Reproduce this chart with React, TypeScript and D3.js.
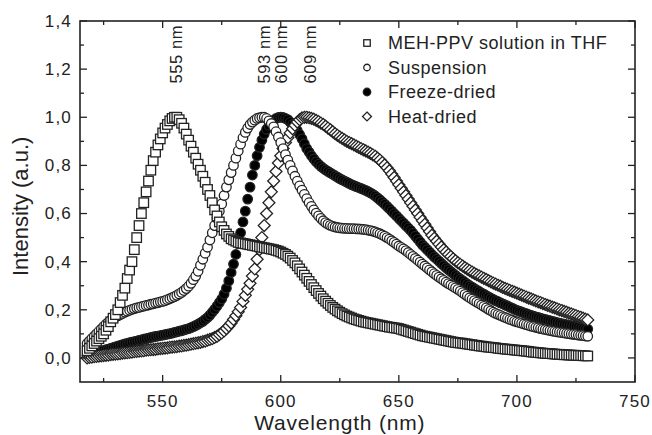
import { useEffect, useRef } from 'react';
import * as d3 from 'd3';

// ── layout ──
const W = 652, H = 435;
const M = { top: 21, right: 17, bottom: 53, left: 80 };
const font = "'Liberation Sans', Arial, sans-serif";
const INK = '#222';
const TXT = '#222';

// ── data: emission spectra, one reading per nm from 518 to 730 nm ──
const WL_START = 518;
const WL_END = 730;

const SOLUTION = [
  0.03, 0.04, 0.05, 0.06, 0.07, 0.08, 0.09, 0.10, 0.115, 0.13,
  0.15, 0.165, 0.18, 0.20, 0.23, 0.26, 0.29, 0.33, 0.365, 0.40,
  0.45, 0.50, 0.55, 0.60, 0.645, 0.69, 0.735, 0.78, 0.82, 0.855,
  0.885, 0.91, 0.935, 0.955, 0.97, 0.985, 0.995, 1.0, 1.0, 0.99,
  0.975, 0.955, 0.93, 0.905, 0.88, 0.855, 0.83, 0.805, 0.78, 0.755,
  0.73, 0.70, 0.675, 0.645, 0.615, 0.59, 0.565, 0.545, 0.53, 0.515,
  0.505, 0.495, 0.49, 0.485, 0.48, 0.478, 0.476, 0.474, 0.472, 0.47,
  0.468, 0.466, 0.464, 0.462, 0.46, 0.458, 0.456, 0.454, 0.452, 0.45,
  0.447, 0.444, 0.44, 0.435, 0.43, 0.423, 0.415, 0.405, 0.395, 0.383,
  0.37, 0.357, 0.344, 0.331, 0.318, 0.305, 0.292, 0.28, 0.268, 0.257,
  0.246, 0.236, 0.227, 0.218, 0.21, 0.203, 0.196, 0.19, 0.184, 0.179,
  0.174, 0.17, 0.166, 0.162, 0.159, 0.156, 0.153, 0.15, 0.148, 0.146,
  0.144, 0.142, 0.14, 0.138, 0.136, 0.134, 0.132, 0.13, 0.128, 0.127,
  0.125, 0.124, 0.122, 0.119, 0.116, 0.113, 0.11, 0.107, 0.104, 0.101,
  0.098, 0.095, 0.092, 0.09, 0.088, 0.086, 0.084, 0.082, 0.08, 0.078,
  0.076, 0.074, 0.072, 0.07, 0.068, 0.066, 0.064, 0.063, 0.062, 0.061,
  0.059, 0.058, 0.056, 0.055, 0.053, 0.052, 0.05, 0.049, 0.048, 0.046,
  0.045, 0.044, 0.043, 0.042, 0.04, 0.039, 0.038, 0.037, 0.036, 0.035,
  0.034, 0.033, 0.032, 0.031, 0.03, 0.029, 0.028, 0.027, 0.025, 0.024,
  0.023, 0.022, 0.021, 0.02, 0.019, 0.018, 0.018, 0.017, 0.016, 0.015,
  0.015, 0.014, 0.013, 0.013, 0.012, 0.012, 0.011, 0.011, 0.01, 0.01,
  0.009, 0.009, 0.008,
];

const SUSPENSION = [
  0.06, 0.07, 0.08, 0.09, 0.10, 0.11, 0.12, 0.13, 0.14, 0.148,
  0.155, 0.163, 0.17, 0.175, 0.18, 0.185, 0.19, 0.194, 0.198, 0.202,
  0.205, 0.208, 0.21, 0.213, 0.215, 0.218, 0.22, 0.223, 0.225, 0.228,
  0.23, 0.233, 0.235, 0.238, 0.242, 0.246, 0.25, 0.255, 0.26, 0.266,
  0.272, 0.28, 0.288, 0.298, 0.31, 0.325, 0.34, 0.36, 0.385, 0.41,
  0.435, 0.46, 0.49, 0.52, 0.55, 0.58, 0.61, 0.64, 0.675, 0.71,
  0.74, 0.77, 0.80, 0.83, 0.86, 0.888, 0.915, 0.937, 0.955, 0.97,
  0.98, 0.988, 0.995, 0.998, 1.0, 1.0, 0.995, 0.985, 0.974, 0.96,
  0.94, 0.918, 0.895, 0.87, 0.845, 0.822, 0.8, 0.777, 0.755, 0.735,
  0.715, 0.697, 0.68, 0.662, 0.645, 0.63, 0.615, 0.602, 0.59, 0.58,
  0.57, 0.562, 0.556, 0.551, 0.547, 0.544, 0.542, 0.54, 0.539, 0.538,
  0.538, 0.537, 0.537, 0.537, 0.536, 0.536, 0.535, 0.534, 0.533, 0.531,
  0.529, 0.527, 0.524, 0.52, 0.516, 0.511, 0.506, 0.5, 0.494, 0.487,
  0.48, 0.473, 0.465, 0.459, 0.453, 0.446, 0.438, 0.43, 0.422, 0.414,
  0.406, 0.398, 0.39, 0.382, 0.374, 0.366, 0.358, 0.35, 0.343, 0.336,
  0.329, 0.322, 0.315, 0.309, 0.303, 0.297, 0.291, 0.285, 0.278, 0.271,
  0.264, 0.257, 0.25, 0.244, 0.238, 0.232, 0.226, 0.22, 0.214, 0.208,
  0.202, 0.196, 0.19, 0.185, 0.181, 0.177, 0.172, 0.168, 0.164, 0.16,
  0.157, 0.153, 0.15, 0.147, 0.144, 0.141, 0.138, 0.135, 0.132, 0.13,
  0.127, 0.125, 0.122, 0.12, 0.118, 0.116, 0.114, 0.112, 0.11, 0.108,
  0.107, 0.105, 0.104, 0.102, 0.101, 0.099, 0.098, 0.097, 0.095, 0.094,
  0.093, 0.091, 0.09,
];

const FREEZE_DRIED = [
  0.01, 0.012, 0.015, 0.018, 0.022, 0.025, 0.028, 0.031, 0.034, 0.037,
  0.04, 0.043, 0.046, 0.049, 0.052, 0.055, 0.058, 0.06, 0.063, 0.066,
  0.068, 0.07, 0.073, 0.075, 0.078, 0.08, 0.082, 0.085, 0.087, 0.089,
  0.091, 0.093, 0.095, 0.097, 0.099, 0.101, 0.103, 0.106, 0.108, 0.111,
  0.113, 0.116, 0.119, 0.122, 0.126, 0.13, 0.135, 0.14, 0.146, 0.152,
  0.16, 0.168, 0.178, 0.19, 0.202, 0.215, 0.23, 0.245, 0.265, 0.29,
  0.32, 0.355, 0.39, 0.43, 0.475, 0.52, 0.565, 0.61, 0.66, 0.71,
  0.76, 0.80, 0.84, 0.875, 0.905, 0.93, 0.95, 0.966, 0.978, 0.988,
  0.995, 0.999, 1.0, 0.999, 0.995, 0.99, 0.98, 0.97, 0.958, 0.945,
  0.928, 0.91, 0.89, 0.87, 0.855, 0.84, 0.827, 0.815, 0.805, 0.796,
  0.788, 0.781, 0.775, 0.769, 0.763, 0.757, 0.751, 0.745, 0.74, 0.735,
  0.73, 0.725, 0.72, 0.716, 0.712, 0.708, 0.704, 0.7, 0.696, 0.691,
  0.686, 0.68, 0.673, 0.665, 0.657, 0.648, 0.639, 0.63, 0.62, 0.61,
  0.6, 0.59, 0.58, 0.57, 0.56, 0.55, 0.54, 0.53, 0.518, 0.506,
  0.494, 0.482, 0.47, 0.46, 0.45, 0.44, 0.43, 0.42, 0.411, 0.402,
  0.393, 0.384, 0.375, 0.367, 0.359, 0.351, 0.343, 0.335, 0.328, 0.321,
  0.314, 0.307, 0.3, 0.294, 0.288, 0.282, 0.276, 0.27, 0.265, 0.259,
  0.254, 0.248, 0.243, 0.238, 0.234, 0.229, 0.225, 0.22, 0.216, 0.211,
  0.207, 0.202, 0.198, 0.194, 0.191, 0.187, 0.184, 0.18, 0.177, 0.174,
  0.171, 0.168, 0.165, 0.162, 0.16, 0.157, 0.155, 0.152, 0.15, 0.147,
  0.145, 0.142, 0.14, 0.138, 0.136, 0.134, 0.132, 0.13, 0.128, 0.126,
  0.124, 0.122, 0.12,
];

const HEAT_DRIED = [
  0.0, 0.002, 0.003, 0.005, 0.006, 0.008, 0.009, 0.01, 0.011, 0.012,
  0.014, 0.015, 0.016, 0.017, 0.018, 0.02, 0.021, 0.022, 0.023, 0.024,
  0.026, 0.027, 0.028, 0.029, 0.03, 0.032, 0.033, 0.034, 0.035, 0.036,
  0.038, 0.039, 0.04, 0.041, 0.042, 0.044, 0.045, 0.046, 0.047, 0.049,
  0.05, 0.052, 0.053, 0.055, 0.057, 0.059, 0.061, 0.063, 0.065, 0.068,
  0.07, 0.074, 0.077, 0.08, 0.085, 0.09, 0.097, 0.104, 0.112, 0.122,
  0.133, 0.145, 0.16, 0.175, 0.192, 0.21, 0.235, 0.26, 0.285, 0.31,
  0.34, 0.37, 0.41, 0.45, 0.5, 0.55, 0.6, 0.645, 0.69, 0.735,
  0.775, 0.81, 0.84, 0.87, 0.895, 0.915, 0.935, 0.952, 0.967, 0.98,
  0.99, 0.997, 1.0, 1.0, 0.998, 0.995, 0.992, 0.987, 0.982, 0.976,
  0.97, 0.963, 0.955, 0.948, 0.94, 0.932, 0.925, 0.918, 0.912, 0.906,
  0.9, 0.895, 0.89, 0.885, 0.88, 0.875, 0.87, 0.865, 0.86, 0.855,
  0.85, 0.844, 0.838, 0.83, 0.822, 0.812, 0.802, 0.79, 0.778, 0.764,
  0.75, 0.735, 0.72, 0.705, 0.69, 0.675, 0.66, 0.645, 0.63, 0.615,
  0.6, 0.585, 0.57, 0.555, 0.54, 0.525, 0.51, 0.497, 0.485, 0.473,
  0.461, 0.45, 0.44, 0.43, 0.421, 0.412, 0.404, 0.396, 0.389, 0.382,
  0.375, 0.369, 0.363, 0.357, 0.351, 0.346, 0.341, 0.336, 0.331, 0.326,
  0.321, 0.316, 0.311, 0.307, 0.302, 0.298, 0.293, 0.289, 0.285, 0.281,
  0.277, 0.273, 0.269, 0.265, 0.261, 0.257, 0.253, 0.249, 0.245, 0.241,
  0.237, 0.233, 0.23, 0.226, 0.222, 0.218, 0.215, 0.211, 0.208, 0.204,
  0.2, 0.197, 0.193, 0.19, 0.186, 0.183, 0.179, 0.176, 0.172, 0.169,
  0.165, 0.161, 0.158,
];

const SERIES_NAMES = ['MEH-PPV solution in THF', 'Suspension', 'Freeze-dried', 'Heat-dried'];
const X_TICKS = [550, 600, 650, 700, 750];
const Y_TICKS = [0, 0.2, 0.4, 0.6, 0.8, 1.0, 1.2, 1.4];
const PEAKS = [555, 593, 600, 609];

type Shape = 'square' | 'circle' | 'dot' | 'diamond';

export default function App() {
  const svgRef = useRef<SVGSVGElement>(null);

  useEffect(() => {
    if (!svgRef.current) return;
    const svg = d3.select(svgRef.current);
    svg.selectAll('*').remove();

    const iW = W - M.left - M.right;
    const iH = H - M.top - M.bottom;
    const x = d3.scaleLinear().domain([515, 750]).range([0, iW]);
    const y = d3.scaleLinear().domain([-0.1, 1.4]).range([iH, 0]);

    const g = svg.append('g').attr('transform', `translate(${M.left},${M.top})`);

    const wl = d3.range(WL_START, WL_END + 1);
    const series: { name: string; shape: Shape; values: number[] }[] = [
      { name: SERIES_NAMES[0], shape: 'square', values: SOLUTION },
      { name: SERIES_NAMES[1], shape: 'circle', values: SUSPENSION },
      { name: SERIES_NAMES[2], shape: 'dot', values: FREEZE_DRIED },
      { name: SERIES_NAMES[3], shape: 'diamond', values: HEAT_DRIED },
    ];

    const drawMarker = (sel: any, shape: Shape, cx: number, cy: number, s: number, sw: number) => {
      if (shape === 'square') {
        sel.append('rect').attr('x', cx - s / 2).attr('y', cy - s / 2).attr('width', s).attr('height', s)
          .attr('fill', '#fff').attr('stroke', INK).attr('stroke-width', sw);
      } else if (shape === 'circle' || shape === 'dot') {
        sel.append('circle').attr('cx', cx).attr('cy', cy).attr('r', s / 2)
          .attr('fill', shape === 'dot' ? '#000' : '#fff').attr('stroke', INK).attr('stroke-width', sw);
      } else {
        const r = s / 2 + 1.2;
        sel.append('path').attr('d', `M${cx},${cy - r}L${cx + r},${cy}L${cx},${cy + r}L${cx - r},${cy}Z`)
          .attr('fill', '#fff').attr('stroke', INK).attr('stroke-width', sw);
      }
    };

    // markers — freeze-dried underneath, solution on top
    const order = [2, 3, 1, 0];
    const plot = g.append('g');
    order.forEach(i => {
      const s = series[i];
      const sg = plot.append('g');
      s.values.forEach((v, k) => drawMarker(sg, s.shape, x(wl[k]), y(v), 9.5, 1.3));
    });

    // frame
    g.append('rect').attr('width', iW).attr('height', iH)
      .attr('fill', 'none').attr('stroke', INK).attr('stroke-width', 1.6);

    // ticks, inward on all four sides
    const tk = g.append('g').attr('stroke', INK).attr('stroke-width', 1.3);
    const xt = [...X_TICKS.map(t => ({ t, L: 7 })), ...X_TICKS.map(t => ({ t: t - 25, L: 4 }))];
    xt.forEach(({ t, L }) => {
      tk.append('line').attr('x1', x(t)).attr('x2', x(t)).attr('y1', iH).attr('y2', iH - L);
      tk.append('line').attr('x1', x(t)).attr('x2', x(t)).attr('y1', 0).attr('y2', L);
    });
    const yMinor = Y_TICKS.slice(0, -1).map(t => t + 0.1);
    const yt = [...Y_TICKS.map(t => ({ t, L: 7 })), ...yMinor.map(t => ({ t, L: 4 }))];
    yt.forEach(({ t, L }) => {
      tk.append('line').attr('x1', 0).attr('x2', L).attr('y1', y(t)).attr('y2', y(t));
      tk.append('line').attr('x1', iW).attr('x2', iW - L).attr('y1', y(t)).attr('y2', y(t));
    });

    // tick labels
    const fmt = (v: number) => d3.format('.1f')(v).replace('.', ',');
    g.append('g').selectAll('text').data(X_TICKS).join('text')
      .attr('x', d => x(d)).attr('y', iH + 25).attr('text-anchor', 'middle')
      .attr('font-family', font).attr('font-size', 17).attr('letter-spacing', 1.2).attr('fill', TXT)
      .text(d => d);
    g.append('g').selectAll('text').data(Y_TICKS).join('text')
      .attr('x', -8).attr('y', d => y(d)).attr('dy', '0.35em').attr('text-anchor', 'end')
      .attr('font-family', font).attr('font-size', 17).attr('letter-spacing', 1.2).attr('fill', TXT)
      .text(d => fmt(d));

    // axis titles
    g.append('text').attr('x', x(625)).attr('y', iH + 48).attr('text-anchor', 'middle')
      .attr('font-family', font).attr('font-size', 21).attr('letter-spacing', 0.8).attr('fill', TXT)
      .text('Wavelength (nm)');
    g.append('text').attr('transform', `translate(${-52},${y(0.63)}) rotate(-90)`).attr('text-anchor', 'middle')
      .attr('font-family', font).attr('font-size', 22).attr('fill', TXT)
      .text('Intensity (a.u.)');

    // peak annotations
    const nudge = [2, 0, 0, 8];
    g.append('g').selectAll('text').data(PEAKS).join('text')
      .attr('transform', (d, i) => `translate(${x(d) + nudge[i] + 6},${y(1.14)}) rotate(-90)`)
      .attr('font-family', font).attr('font-size', 16.5).attr('letter-spacing', 0.6).attr('fill', TXT)
      .text(d => `${d} nm`);

    // legend
    const lg = g.append('g').attr('transform', `translate(${367 - M.left},${43 - M.top})`);
    series.forEach((s, i) => {
      const row = lg.append('g').attr('transform', `translate(0,${i * 24.5})`);
      drawMarker(row, s.shape, 0, 0, s.shape === 'dot' ? 7.5 : 6.5, 1.3);
      row.append('text').attr('x', 21).attr('y', 0).attr('dy', '0.36em')
        .attr('font-family', font).attr('font-size', 18).attr('letter-spacing', 0.5).attr('fill', TXT)
        .text(s.name);
    });
  }, []);

  return (
    <div style={{ position: 'absolute', left: 0, top: 0, background: '#fff' }}>
      <svg ref={svgRef} width={W} height={H} style={{ display: 'block' }} />
    </div>
  );
}
